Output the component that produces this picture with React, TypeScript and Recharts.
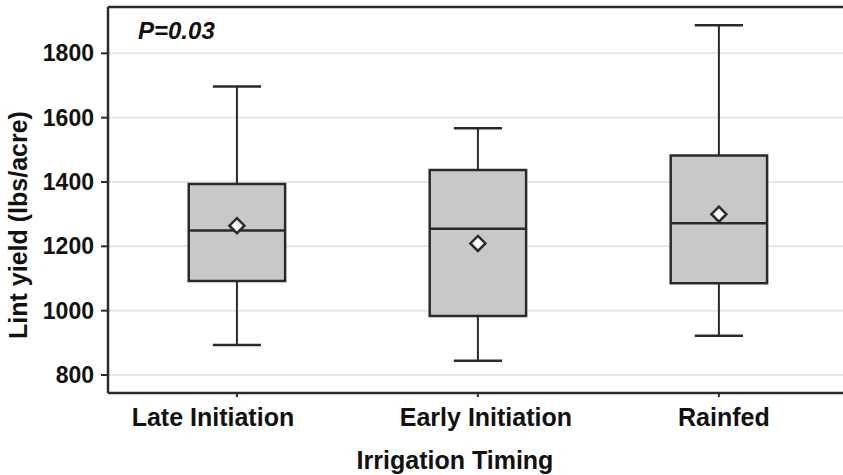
import React from "react";
import {
  ComposedChart,
  XAxis,
  YAxis,
  CartesianGrid,
  ReferenceArea,
  ReferenceLine,
  Scatter,
  Customized,
  Label,
} from "recharts";

// box plot values (lbs/acre)
const categories = ["Late Initiation", "Early Initiation", "Rainfed"];
const whiskerLow = [893, 844, 922];
const q1 = [1092, 983, 1085];
const median = [1249, 1255, 1272];
const q3 = [1394, 1437, 1482];
const whiskerHigh = [1697, 1567, 1887];
const means = [1264, 1209, 1300];
const yTicks = [800, 1000, 1200, 1400, 1600, 1800];
const pValue = "P=0.03";

const INK = "#2a2a2a";
const FONT = "'Liberation Sans', Arial, sans-serif";
const BOX_HALF = 0.2;
const CAP_HALF = 0.1;
const Y_DOMAIN: [number, number] = [744, 1944];
const X_DOMAIN: [number, number] = [0.465, 3.627];
const TICK_NUDGE = [-24, 8, 5];

const meanData = categories.map((name, i) => ({ x: i + 1, mean: means[i], name }));

const Diamond = (props: any) => {
  const { cx, cy } = props;
  const r = 7.5;
  return (
    <polygon
      points={`${cx},${cy - r} ${cx + r},${cy} ${cx},${cy + r} ${cx - r},${cy}`}
      fill="#fafafa"
      stroke={INK}
      strokeWidth={2.5}
    />
  );
};

const XTick = (props: any) => {
  const { x, y, payload } = props;
  const i = payload.value - 1;
  return (
    <text
      x={x + (TICK_NUDGE[i] ?? 0)}
      y={y}
      dy="0.71em"
      textAnchor="middle"
      fontFamily={FONT}
      fontWeight="bold"
      fontSize={25}
      fill="#111"
    >
      {categories[i]}
    </text>
  );
};

const App: React.FC = () => {
  return (
    <div style={{ position: "absolute", left: 0, top: 0, width: 843, height: 475, overflow: "hidden" }}>
      <ComposedChart
        width={870}
        height={475}
        data={meanData}
        margin={{ top: 7, right: 0, bottom: 0, left: 0 }}
      >
        <CartesianGrid vertical={false} stroke="#e6e6e6" strokeWidth={2} />
        <XAxis
          type="number"
          dataKey="x"
          domain={X_DOMAIN}
          allowDataOverflow
          ticks={[1, 2, 3]}
          tick={<XTick />}
          tickSize={4}
          tickMargin={11}
          height={82}
          axisLine={{ stroke: INK, strokeWidth: 2.5 }}
          tickLine={{ stroke: INK, strokeWidth: 2 }}
        >
          <Label
            content={() => (
              <text
                x={455}
                y={469}
                textAnchor="middle"
                fontFamily={FONT}
                fontWeight="bold"
                fontSize={25}
                fill="#111"
              >
                Irrigation Timing
              </text>
            )}
          />
        </XAxis>
        <YAxis
          type="number"
          domain={Y_DOMAIN}
          allowDataOverflow
          ticks={yTicks}
          width={108}
          tickSize={7}
          tickMargin={7}
          tick={{ fontFamily: FONT, fontWeight: "bold", fontSize: 23, fill: "#111" }}
          axisLine={{ stroke: INK, strokeWidth: 2.5 }}
          tickLine={{ stroke: INK, strokeWidth: 2 }}
        >
          <Label
            content={() => (
              <text
                x={27}
                y={225}
                transform="rotate(-90 27 225)"
                textAnchor="middle"
                fontFamily={FONT}
                fontWeight="bold"
                fontSize={25}
                fill="#111"
              >
                Lint yield (lbs/acre)
              </text>
            )}
          />
        </YAxis>

        {/* top frame line */}
        <ReferenceLine y={Y_DOMAIN[1]} stroke={INK} strokeWidth={2.5} />

        {/* whiskers + caps */}
        {categories.map((_, i) => (
          <ReferenceLine
            key={`wh${i}`}
            segment={[{ x: i + 1, y: q3[i] }, { x: i + 1, y: whiskerHigh[i] }]}
            stroke={INK}
            strokeWidth={2}
          />
        ))}
        {categories.map((_, i) => (
          <ReferenceLine
            key={`wl${i}`}
            segment={[{ x: i + 1, y: whiskerLow[i] }, { x: i + 1, y: q1[i] }]}
            stroke={INK}
            strokeWidth={2}
          />
        ))}
        {categories.map((_, i) => (
          <ReferenceLine
            key={`ch${i}`}
            segment={[{ x: i + 1 - CAP_HALF, y: whiskerHigh[i] }, { x: i + 1 + CAP_HALF, y: whiskerHigh[i] }]}
            stroke={INK}
            strokeWidth={2.5}
          />
        ))}
        {categories.map((_, i) => (
          <ReferenceLine
            key={`cl${i}`}
            segment={[{ x: i + 1 - CAP_HALF, y: whiskerLow[i] }, { x: i + 1 + CAP_HALF, y: whiskerLow[i] }]}
            stroke={INK}
            strokeWidth={2.5}
          />
        ))}

        {/* boxes */}
        {categories.map((_, i) => (
          <ReferenceArea
            key={`box${i}`}
            x1={i + 1 - BOX_HALF}
            x2={i + 1 + BOX_HALF}
            y1={q1[i]}
            y2={q3[i]}
            fill="#c8c8c8"
            fillOpacity={1}
            stroke={INK}
            strokeWidth={2.5}
          />
        ))}

        {/* medians */}
        {categories.map((_, i) => (
          <ReferenceLine
            key={`med${i}`}
            segment={[{ x: i + 1 - BOX_HALF, y: median[i] }, { x: i + 1 + BOX_HALF, y: median[i] }]}
            stroke={INK}
            strokeWidth={2.5}
          />
        ))}

        <Scatter dataKey="mean" shape={<Diamond />} isAnimationActive={false} />

        <Customized
          component={() => (
            <text
              x={138}
              y={39}
              fontFamily={FONT}
              fontWeight="bold"
              fontStyle="italic"
              fontSize={24}
              fill="#111"
            >
              {pValue}
            </text>
          )}
        />
      </ComposedChart>
    </div>
  );
};

export default App;
